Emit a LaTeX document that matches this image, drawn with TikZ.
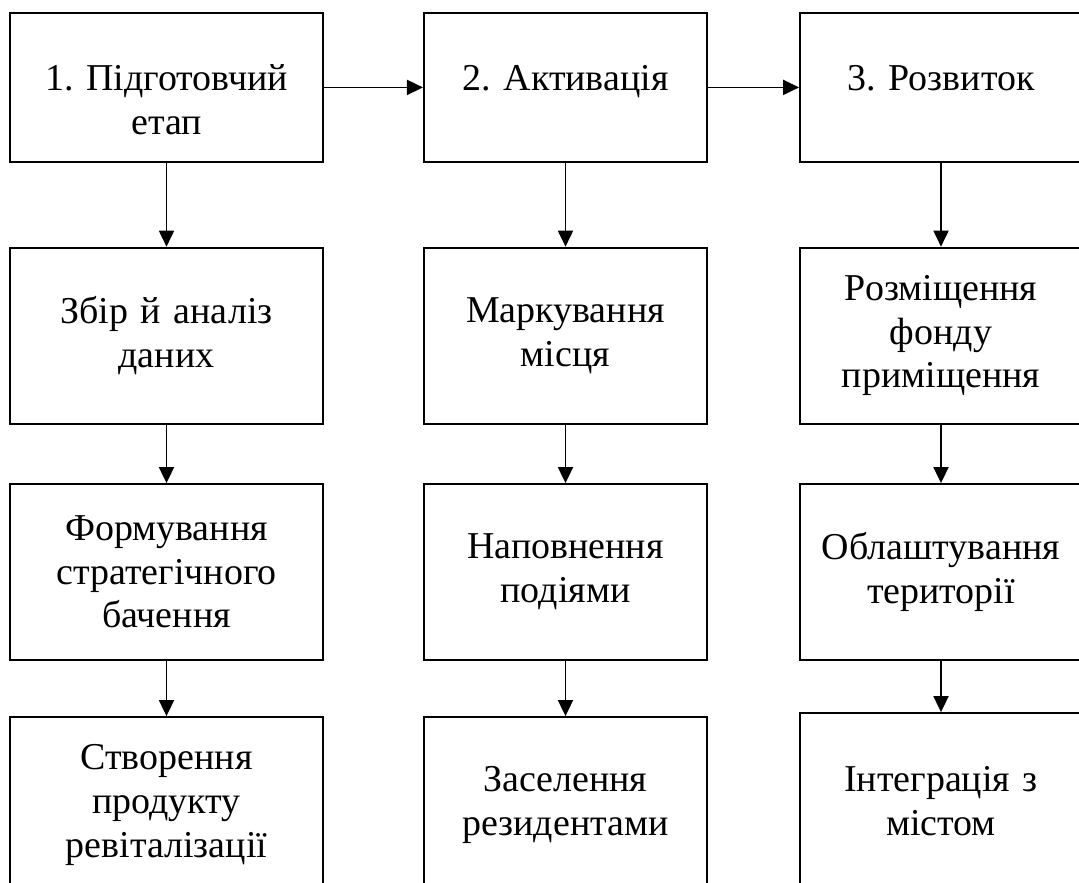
\documentclass[tikz,border=0pt]{standalone}
\usepackage{fontspec}
\setmainfont{Liberation Serif}
\usetikzlibrary{arrows.meta,positioning}
\frenchspacing

\begin{document}
\begin{tikzpicture}[
		every node/.style={font=\fontsize{27}{31}\selectfont},
		stagebox/.style={draw,line width=1.3pt,inner sep=0pt,align=center,text width=#1},
		headbox/.style={stagebox=#1,anchor=north,text height=1.95cm,text depth=1.775cm},
		itembox/.style={stagebox=#1,minimum height=4.4cm},
		flow/.style={line width=1.3pt,-{Triangle[length=0.4cm,width=0.375cm]}}
	]
		\useasboundingbox (0,0) rectangle (26.975,-22.075);
		\clip (0,0) rectangle (26.975,-22.075);
		% stage headers
		\node[headbox=7.83cm] (prep) at (4.1625,-0.3) {1. Підготовчий\\етап};
		\node[headbox=7.08cm] (activ) at (14.1375,-0.3) {2. Активація};
		\node[headbox=7.05cm] (devel) at (23.525,-0.3) {3. Розвиток};
		% first column
		\node[itembox=7.83cm] (data) at (4.1625,-8.39) {Збір й аналіз\\даних};
		\node[itembox=7.83cm] (vision) at (4.1625,-14.3) {Формування\\стратегічного\\бачення};
		\node[itembox=7.83cm] (product) at (4.1625,-20.125) {Створення\\продукту\\ревіталізації};
		% second column
		\node[itembox=7.08cm] (brand) at (14.1375,-8.39) {Маркування\\місця};
		\node[itembox=7.08cm] (events) at (14.1375,-14.3) {Наповнення\\подіями};
		\node[itembox=7.08cm] (residents) at (14.1375,-20.125) {Заселення\\резидентами};
		% third column
		\node[itembox=7.05cm] (premises) at (23.525,-8.39) {Розміщення\\фонду\\приміщення};
		\node[itembox=7.05cm] (territory) at (23.525,-14.3) {Облаштування\\території};
		\node[itembox=7.05cm] (integration) at (23.525,-20.025) {Інтеграція з\\містом};
		% arrows between stages
		\draw[flow] (prep) -- (activ);
		\draw[flow] (activ) -- (devel);
		% arrows down the columns
		\draw[flow] (prep) -- (data);
		\draw[flow] (data) -- (vision);
		\draw[flow] (vision) -- (product);
		\draw[flow] (activ) -- (brand);
		\draw[flow] (brand) -- (events);
		\draw[flow] (events) -- (residents);
		\draw[flow] (devel) -- (premises);
		\draw[flow] (premises) -- (territory);
		\draw[flow] (territory) -- (integration);
	\end{tikzpicture}
\end{document}
